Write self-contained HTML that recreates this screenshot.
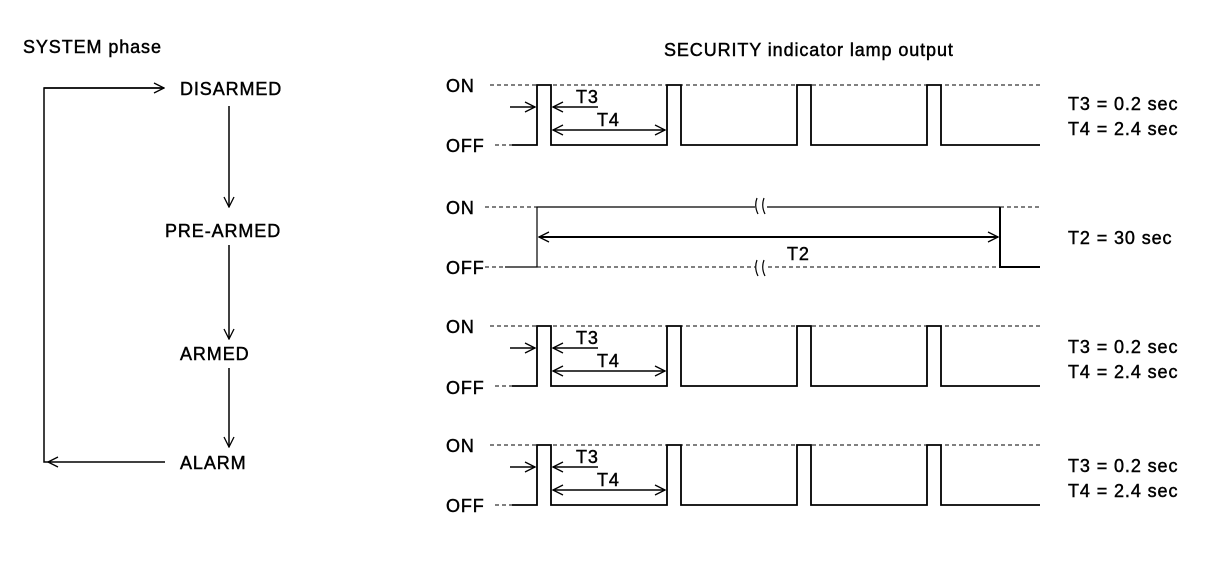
<!DOCTYPE html>
<html><head><meta charset="utf-8"><style>
html,body{margin:0;padding:0;background:#fff;}
svg{display:block;}
text{font-family:"Liberation Sans",Arial,sans-serif;font-size:18px;fill:#000;stroke:#000;stroke-width:0.45;letter-spacing:0.9px;}
</style></head><body>
<svg width="1216" height="582" viewBox="0 0 1216 582" xmlns="http://www.w3.org/2000/svg">
<defs>
<marker id="a" viewBox="0 0 12 12" refX="11" refY="6" markerWidth="12" markerHeight="12" markerUnits="userSpaceOnUse" orient="auto-start-reverse">
<path d="M1,1 L11,6 L1,11" fill="none" stroke="#000" stroke-width="1.3"/>
</marker>
</defs>
<g stroke="#000" stroke-width="1.5" fill="none">
<polyline points="164,88 44,88 44,462 48,462"/>
<line x1="44" y1="88" x2="164" y2="88" marker-end="url(#a)"/>
<line x1="165" y1="462" x2="48" y2="462" marker-end="url(#a)"/>
<line x1="229" y1="106" x2="229" y2="207" marker-end="url(#a)"/>
<line x1="229" y1="245" x2="229" y2="339" marker-end="url(#a)"/>
<line x1="229" y1="368" x2="229" y2="447" marker-end="url(#a)"/>
</g>
<text x="23" y="53">SYSTEM phase</text>
<text x="180" y="95">DISARMED</text>
<text x="165" y="237">PRE-ARMED</text>
<text x="180" y="360">ARMED</text>
<text x="180" y="469">ALARM</text>
<text x="664" y="56">SECURITY indicator lamp output</text>

<g stroke="#000" fill="none">
<g>
<line x1="490" y1="85" x2="1040" y2="85" stroke-dasharray="4,3" stroke-width="1"/>
<line x1="495" y1="145" x2="512" y2="145" stroke-dasharray="4,3" stroke-width="1"/>
<polyline stroke-width="1.8" points="512,145 537,145 537,85 551,85 551,145 667,145 667,85 681,85 681,145 797,145 797,85 811,85 811,145 927,145 927,85 941,85 941,145 1040,145"/>
<line x1="510" y1="107" x2="535" y2="107" stroke-width="1.5" marker-end="url(#a)"/>
<line x1="598" y1="107" x2="553" y2="107" stroke-width="1.5" marker-end="url(#a)"/>
<line x1="553" y1="130" x2="665" y2="130" stroke-width="1.5" marker-start="url(#a)" marker-end="url(#a)"/>
</g>
<g transform="translate(0,241)">
<line x1="490" y1="85" x2="1040" y2="85" stroke-dasharray="4,3" stroke-width="1"/>
<line x1="495" y1="145" x2="512" y2="145" stroke-dasharray="4,3" stroke-width="1"/>
<polyline stroke-width="1.8" points="512,145 537,145 537,85 551,85 551,145 667,145 667,85 681,85 681,145 797,145 797,85 811,85 811,145 927,145 927,85 941,85 941,145 1040,145"/>
<line x1="510" y1="107" x2="535" y2="107" stroke-width="1.5" marker-end="url(#a)"/>
<line x1="598" y1="107" x2="553" y2="107" stroke-width="1.5" marker-end="url(#a)"/>
<line x1="553" y1="130" x2="665" y2="130" stroke-width="1.5" marker-start="url(#a)" marker-end="url(#a)"/>
</g>
<g transform="translate(0,360)">
<line x1="490" y1="85" x2="1040" y2="85" stroke-dasharray="4,3" stroke-width="1"/>
<line x1="495" y1="145" x2="512" y2="145" stroke-dasharray="4,3" stroke-width="1"/>
<polyline stroke-width="1.8" points="512,145 537,145 537,85 551,85 551,145 667,145 667,85 681,85 681,145 797,145 797,85 811,85 811,145 927,145 927,85 941,85 941,145 1040,145"/>
<line x1="510" y1="107" x2="535" y2="107" stroke-width="1.5" marker-end="url(#a)"/>
<line x1="598" y1="107" x2="553" y2="107" stroke-width="1.5" marker-end="url(#a)"/>
<line x1="553" y1="130" x2="665" y2="130" stroke-width="1.5" marker-start="url(#a)" marker-end="url(#a)"/>
</g>
<line x1="485" y1="207" x2="537" y2="207" stroke-dasharray="4,3" stroke-width="1"/>
<line x1="1000" y1="207" x2="1040" y2="207" stroke-dasharray="4,3" stroke-width="1"/>
<line x1="485" y1="267" x2="505" y2="267" stroke-dasharray="4,3" stroke-width="1"/>
<line x1="537" y1="267" x2="1000" y2="267" stroke-dasharray="4,3" stroke-width="1"/>
<polyline stroke-width="1.2" points="505,267 537,267 537,207 1000,207"/>
<polyline stroke-width="2" points="1000,207 1000,267 1040,267"/>
<line x1="539" y1="237" x2="998" y2="237" stroke-width="2" marker-start="url(#a)" marker-end="url(#a)"/>
<rect x="755" y="200" width="12" height="14" fill="#fff" stroke="none"/>
<rect x="755" y="260" width="12" height="16" fill="#fff" stroke="none"/>
<path d="M757,198 q-3,8 1,16 M764,198 q-3,8 1,16 M757,260 q-3,8 1,16 M764,260 q-3,8 1,16" stroke-width="1.2"/>
</g>
<g>
<text x="446" y="92">ON</text><text x="446" y="152">OFF</text>
<text x="446" y="214">ON</text><text x="446" y="274">OFF</text>
<text x="446" y="333">ON</text><text x="446" y="394">OFF</text>
<text x="446" y="452">ON</text><text x="446" y="512">OFF</text>
<text x="576" y="103">T3</text><text x="597" y="126">T4</text>
<text x="576" y="344">T3</text><text x="597" y="367">T4</text>
<text x="576" y="463">T3</text><text x="597" y="486">T4</text>
<text x="787" y="260">T2</text>
<text x="1068" y="110">T3 = 0.2 sec</text><text x="1068" y="135">T4 = 2.4 sec</text>
<text x="1068" y="244">T2 = 30 sec</text>
<text x="1068" y="353">T3 = 0.2 sec</text><text x="1068" y="378">T4 = 2.4 sec</text>
<text x="1068" y="472">T3 = 0.2 sec</text><text x="1068" y="497">T4 = 2.4 sec</text>
</g>
</svg>
</body></html>
